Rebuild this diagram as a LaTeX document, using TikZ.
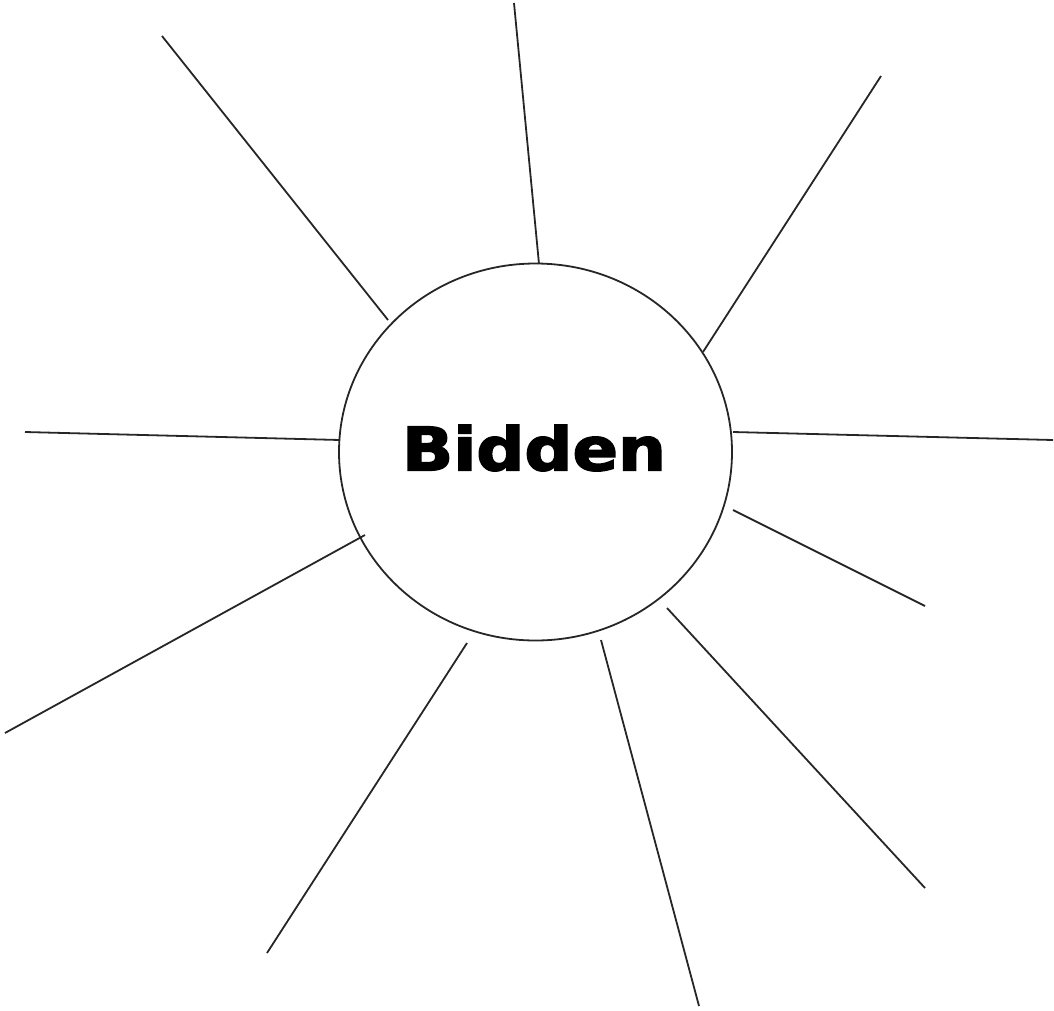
\documentclass[tikz,border=0pt]{standalone}
\usepackage{fontspec}
\newfontfamily\labelfont[FakeBold=2.5]{DejaVu Sans Bold}
\usetikzlibrary{shapes.geometric}
\begin{document}
\begin{tikzpicture}[x=1pt,y=-1pt,
  spoke/.style={draw=black!85, line width=1.8pt},
  hub/.style={ellipse, draw=black!85, line width=1.8pt, minimum width=393pt, minimum height=377pt, inner sep=0pt}]
\useasboundingbox (0,0) rectangle (1054,1010);
\node[hub] (c) at (535.5,452) {};
\node (t) at (534,448) {\scalebox{1.12}[1]{\labelfont\fontsize{60}{60}\selectfont Bidden}};
% spokes: inner end (a) and outer end (b)
\coordinate (a1) at (539,264);  \coordinate (b1) at (514,3);
\coordinate (a2) at (388,320);  \coordinate (b2) at (162,36);
\coordinate (a3) at (703,352);  \coordinate (b3) at (881,76);
\coordinate (a4) at (340,440);  \coordinate (b4) at (25,432);
\coordinate (a5) at (733,432);  \coordinate (b5) at (1053,440);
\coordinate (a6) at (733,510);  \coordinate (b6) at (925,606);
\coordinate (a7) at (365,535);  \coordinate (b7) at (5,733);
\coordinate (a8) at (667,608);  \coordinate (b8) at (925,888);
\coordinate (a9) at (467,643);  \coordinate (b9) at (267,953);
\coordinate (a10) at (601,640); \coordinate (b10) at (699,1006);
\foreach \i in {1,...,10} {\draw[spoke] (a\i) -- (b\i);}
\end{tikzpicture}
\end{document}
